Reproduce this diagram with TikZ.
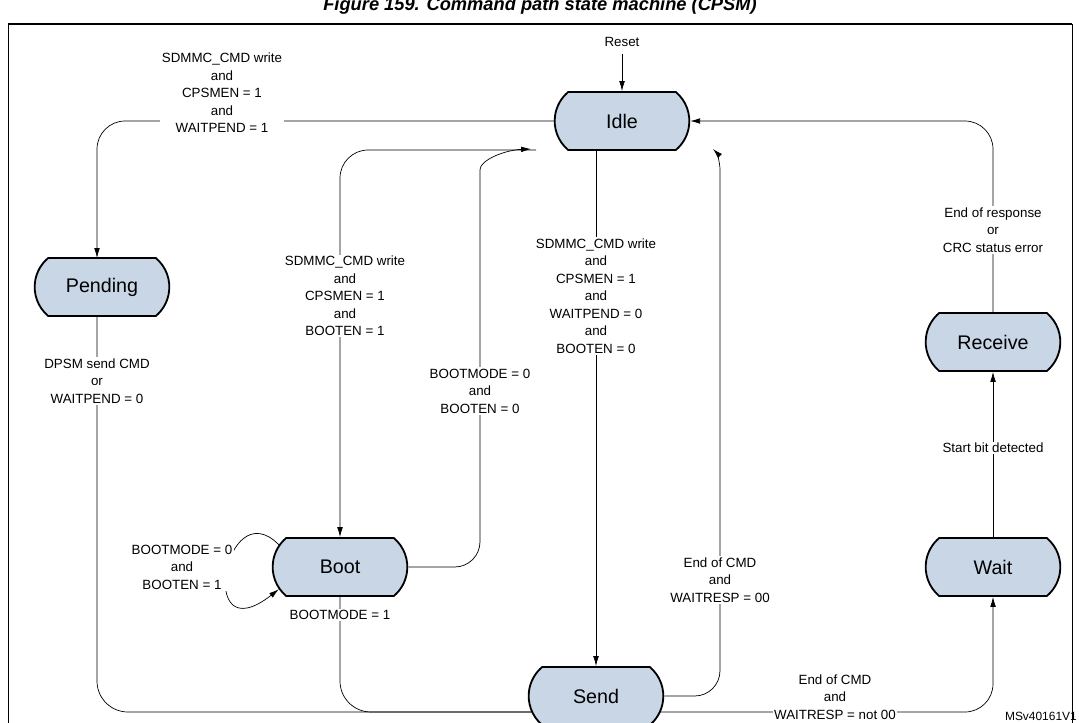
\documentclass[tikz,border=0pt]{standalone}
\usepackage{fontspec}
\setmainfont{Liberation Sans}
\usetikzlibrary{shapes.misc,arrows.meta,positioning}

\tikzset{
  state/.style = {draw, line width = 1.3pt, fill = stateblue, shape = rounded rectangle,
    rounded rectangle arc length = 100, minimum width = 3.6cm, minimum height = 1.45cm,
    font = \fontsize{14}{16}\selectfont},
  lbl/.style = {fill = white, align = center, inner sep = 1pt, font = \fontsize{9.5}{12.5}\selectfont},
  arr/.style = {-{Latex[length = 7pt, width = 4pt]}},
}
\definecolor{stateblue}{HTML}{C8D6E6}

\begin{document}
\begin{tikzpicture}[x = 0.025cm, y = -0.025cm, line width = 0.5pt]
\useasboundingbox (0,0) rectangle (1079,723);
\node[font = \bfseries\itshape\fontsize{13}{15}\selectfont] (title) at (540,6) {Figure 159. Command path state machine (CPSM)};
\draw[line width = 1.4pt] (8,24) -- (1072,24);
\draw (8,24) -- (8,730);
\draw (1072,24) -- (1072,730);

% states
\node[state] (Idle) at (622,121) {Idle};
\node[state] (Pending) at (102,287) {Pending};
\node[state] (Boot) at (340,567) {Boot};
\node[state] (Send) at (596,696) {Send};
\node[state] (Receive) at (993,342) {Receive};
\node[state] (Wait) at (993,567) {Wait};

% helper points
\coordinate (reset) at (622,54);
\coordinate (i1) at (536,150);
\coordinate (i2) at (531,149);
\coordinate (i3) at (713,149);
\coordinate (s0) at (532,712);
\coordinate (s1) at (660,712);

% transitions
\node[font = \fontsize{9.5}{12}\selectfont] (rlbl) at (622,42) {Reset};
\draw[arr] (reset) -- (Idle.north);
\draw[arr, rounded corners = 20] (Idle.west) -- (97,121) -- (97,258);
\draw[arr, rounded corners = 20] (i1) -| (Boot.north);
\draw[arr, rounded corners = 18] (Boot.east) -- (480,567) -- (480,195)
  .. controls (480,160) and (505,150) .. (i2);
\draw[arr] (Boot.160) .. controls (225,490) and (195,655) .. (Boot.200);
\draw[rounded corners = 22] (97,316) -- (97,712) -- (s0);
\draw[rounded corners = 22] (Boot.south) -- (340,712) -- (s0);
\draw[arr] (Idle.south -| Send.north) -- (Send.north);
\draw[arr, rounded corners = 18] (Send.east) -- (720,696) -- (720,195)
  .. controls (720,162) and (716,152) .. (i3);
\draw[arr, rounded corners = 20] (s1) -| (Wait.south);
\draw[arr] (Wait.north) -- (Receive.south);
\draw[arr, rounded corners = 20] (Receive.north) |- (Idle.east);

% labels
\node[lbl] (l1) at (222,93) {SDMMC\_CMD write\\and\\CPSMEN = 1\\and\\WAITPEND = 1};
\node[lbl] (l2) at (345,296) {SDMMC\_CMD write\\and\\CPSMEN = 1\\and\\BOOTEN = 1};
\node[lbl] (l3) at (480,391) {BOOTMODE = 0\\and\\BOOTEN = 0};
\node[lbl] (l4) at (182,567) {BOOTMODE = 0\\and\\BOOTEN = 1};
\node[lbl] (l5) at (97,381) {DPSM send CMD\\or\\WAITPEND = 0};
\node[lbl] (l6) at (340,615) {BOOTMODE = 1};
\node[lbl] (l7) at (596,296) {SDMMC\_CMD write\\and\\CPSMEN = 1\\and\\WAITPEND = 0\\and\\BOOTEN = 0};
\node[lbl] (l8) at (720,580) {End of CMD\\and\\WAITRESP = 00};
\node[lbl] (l9) at (835,697) {End of CMD\\and\\WAITRESP = not 00};
\node[lbl] (l10) at (993,448) {Start bit detected};
\node[lbl] (l11) at (993,230) {End of response\\or\\CRC status error};
\node[font = \fontsize{8.5}{10}\selectfont, anchor = west] (code) at (1000,716) {MSv40161V1};
\end{tikzpicture}
\end{document}
